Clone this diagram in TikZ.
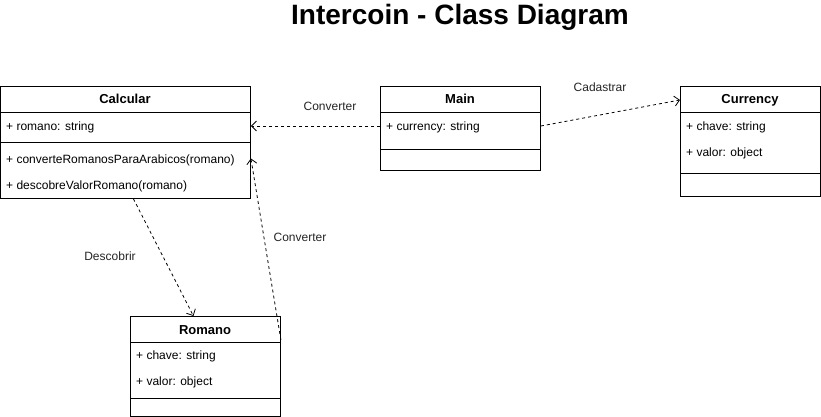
\documentclass[tikz,border=0pt]{standalone}
\usepackage{fontspec}
\setmainfont{Liberation Sans}
\usetikzlibrary{arrows.meta,calc}
\tikzset{
  cls/.style={draw,line width=0.9pt,anchor=north west,inner sep=0pt},
  sep/.style={line width=0.9pt},
  title/.style={anchor=base,inner sep=0pt,font=\fontsize{13}{15}\selectfont\bfseries},
  row/.style={anchor=base west,inner sep=0pt,font=\fontsize{12}{14}\selectfont},
  lbl/.style={inner sep=0pt,font=\fontsize{12}{14}\selectfont,text=black!85},
  dep/.style={line width=0.8pt,dash pattern=on 3pt off 3pt,-{Straight Barb[length=5pt,width=10pt,line width=0.8pt]}}
}
\begin{document}
\begin{tikzpicture}[x=1pt,y=-1pt]
\useasboundingbox[fill=white] (0,0) rectangle (821,417);
\node[font=\fontsize{28}{32}\selectfont\bfseries] (ttl) at (460,17) {Intercoin - Class Diagram};

% Calcular
\node[cls,minimum width=250pt,minimum height=112pt] (calc) at (0,86) {};
\node[title] (calct) at (125,104) {Calcular};
\draw[sep] (0,112) -- (250,112);
\node[row] (calca) at (6,130) {+ romano: string};
\draw[sep] (0,142) -- (250,142);
\node[row] (calcm1) at (6,163) {+ converteRomanosParaArabicos(romano)};
\node[row] (calcm2) at (6,189) {+ descobreValorRomano(romano)};

% Main
\node[cls,minimum width=160pt,minimum height=84pt] (main) at (380,86) {};
\node[title] (maint) at (460,104) {Main};
\draw[sep] (380,112) -- (540,112);
\node[row] (maina) at (386,130) {+ currency: string};
\draw[sep] (380,149) -- (540,149);

% Currency
\node[cls,minimum width=140pt,minimum height=110pt] (cur) at (680,86) {};
\node[title] (curt) at (750,104) {Currency};
\draw[sep] (680,112) -- (820,112);
\node[row] (cura1) at (686,130) {+ chave: string};
\node[row] (cura2) at (686,156) {+ valor: object};
\draw[sep] (680,173) -- (820,173);

% Romano
\node[cls,minimum width=150pt,minimum height=100pt] (rom) at (130,316) {};
\node[title] (romt) at (205,334) {Romano};
\draw[sep] (130,342) -- (280,342);
\node[row] (roma1) at (136,359) {+ chave: string};
\node[row] (roma2) at (136,385) {+ valor: object};
\draw[sep] (130,398) -- (280,398);

% connectors
\coordinate (ma) at (main.west |- 0,126);
\draw[dep] (ma) -- (calc.east |- ma);
\node[lbl] (l1) at (330,106) {Converter};
\draw[dep] (main.east |- ma) -- ($(cur.north west)+(0,14)$);
\node[lbl] (l2) at (600,87) {Cadastrar};
\draw[dep] ([xshift=8pt]calc.south) -- ([xshift=-12pt]rom.north);
\node[lbl] (l3) at (110,256) {Descobrir};
\draw[dep] ([yshift=-24pt]rom.north east) -- ([yshift=-16pt]calc.east);
\node[lbl] (l4) at (300,237) {Converter};
\end{tikzpicture}
\end{document}
